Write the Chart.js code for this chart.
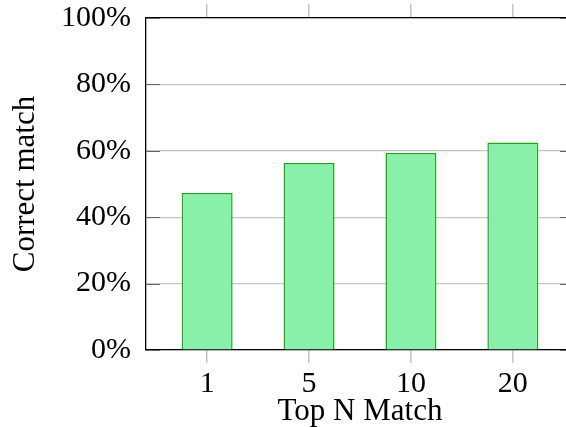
<!DOCTYPE html>
<html>
<head>
<meta charset="utf-8">
<script src="https://cdn.jsdelivr.net/npm/chart.js@4"></script>
<style>
  html, body { margin: 0; padding: 0; background: #fff; }
  #wrap { width: 566px; height: 427px; overflow: hidden; position: relative; }
  #wrap canvas { position: absolute; left: 0; top: 0; }
</style>
</head>
<body>
<div id="wrap"><canvas id="chart" width="580" height="427"></canvas></div>
<script>
const categories = ['1', '5', '10', '20'];
const correctMatch = [47.3, 56.3, 59.3, 62.5];
const yTicks = [0, 20, 40, 60, 80, 100];

const FONT = "'Liberation Serif', 'DejaVu Serif', serif";
const GRID = '#c4c4c4';

// short dark tick marks drawn inside the plot on both sides
const innerTicks = {
  id: 'innerTicks',
  afterDatasetsDraw(chart) {
    const { ctx, chartArea } = chart;
    const y = chart.scales.y;
    ctx.save();
    ctx.strokeStyle = '#666';
    ctx.lineWidth = 1.2;
    yTicks.forEach((v) => {
      const py = Math.round(y.getPixelForValue(v)) + 0.5;
      ctx.beginPath();
      ctx.moveTo(chartArea.left, py);
      ctx.lineTo(chartArea.left + 14, py);
      ctx.moveTo(chartArea.right - 14, py);
      ctx.lineTo(chartArea.right, py);
      ctx.stroke();
    });
    ctx.restore();
  },
};

const catTicks = (s) => { s.ticks = categories.map((c, i) => ({ value: i })); };

new Chart(document.getElementById('chart'), {
  type: 'bar',
  data: {
    datasets: [{
      data: categories.map((c, i) => ({ x: i, y: correctMatch[i] })),
      backgroundColor: '#88f0a8',
      borderColor: '#1ea81e',
      borderWidth: 1.5,
      categoryPercentage: 1,
      barPercentage: 0.5,
    }],
  },
  options: {
    responsive: false,
    animation: false,
    layout: { padding: 0 },
    plugins: { legend: { display: false }, tooltip: { enabled: false } },
    scales: {
      x: {
        type: 'linear',
        position: 'bottom',
        offset: false,
        min: -0.6,
        max: 3.6,
        afterBuildTicks: catTicks,
        afterFit: (s) => { s.height = 77; s.paddingLeft = 0; s.paddingRight = 0; },
        ticks: {
          callback: (v) => categories[v],
          font: { family: FONT, size: 30, lineHeight: 1 },
          color: '#000',
          padding: 6,
          maxRotation: 0,
          autoSkip: false,
        },
        grid: { offset: false, drawOnChartArea: false, color: GRID, lineWidth: 1.5, tickLength: 13 },
        border: { color: '#000', width: 1.3 },
        title: {
          display: true,
          text: 'Top N Match',
          font: { family: FONT, size: 31, lineHeight: 1 },
          color: '#000',
          padding: { top: 0, bottom: 0 },
        },
      },
      x2: {
        type: 'linear',
        position: 'top',
        offset: false,
        min: -0.6,
        max: 3.6,
        afterBuildTicks: catTicks,
        afterFit: (s) => { s.height = 18; },
        ticks: { display: false },
        grid: { offset: false, drawOnChartArea: false, color: GRID, lineWidth: 1.5, tickLength: 14 },
        border: { color: '#000', width: 1.3 },
      },
      y: {
        min: 0,
        max: 100,
        afterBuildTicks: (s) => { s.ticks = yTicks.map((v) => ({ value: v })); },
        afterFit: (s) => { s.width = 146; s.paddingTop = 0; s.paddingBottom = 0; },
        ticks: {
          callback: (v) => v + '%',
          font: { family: FONT, size: 30, lineHeight: 1 },
          color: '#000',
          padding: 15,
        },
        grid: { color: GRID, lineWidth: 1.2, drawTicks: false },
        border: { color: '#000', width: 1.3 },
        title: {
          display: true,
          text: 'Correct match',
          font: { family: FONT, size: 31, lineHeight: 1 },
          color: '#000',
          padding: { top: 10, bottom: 0 },
        },
      },
      y2: {
        position: 'right',
        min: 0,
        max: 100,
        afterFit: (s) => { s.width = 6; s.paddingTop = 0; s.paddingBottom = 0; },
        ticks: { display: false },
        grid: { drawOnChartArea: false, drawTicks: false },
        border: { color: '#000', width: 1.3 },
      },
    },
  },
  plugins: [innerTicks],
});
</script>
</body>
</html>
